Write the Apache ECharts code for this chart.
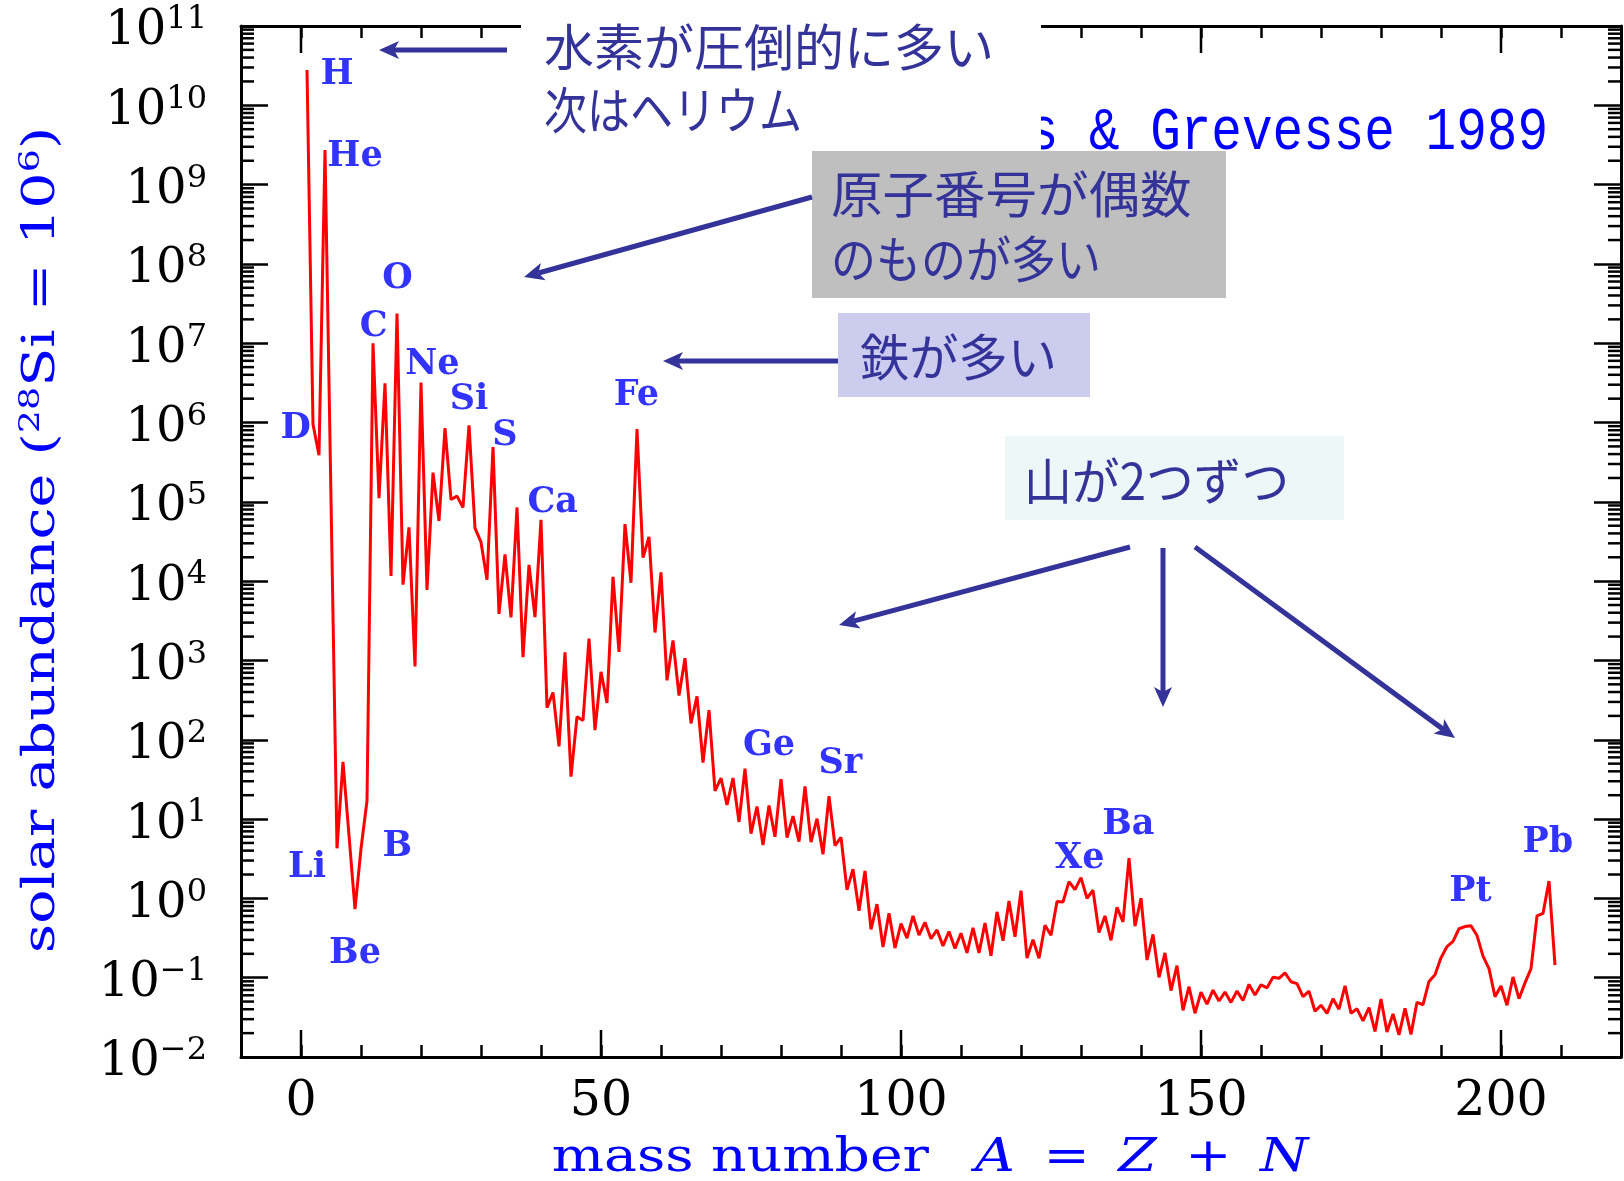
<!DOCTYPE html>
<html>
<head>
<meta charset="utf-8">
<script src="https://cdn.jsdelivr.net/npm/echarts@6/dist/echarts.min.js"></script>
<style>html,body{margin:0;padding:0;background:#fff}#chart{width:1624px;height:1181px}</style>
</head>
<body>
<div id="chart"></div>
<script>
// ---------- DATA ----------
const massNumbers = [
  1,2,3,4,6,7,9,10,11,12,
  13,14,15,16,17,18,19,20,21,22,
  23,24,25,26,27,28,29,30,31,32,
  33,34,35,36,37,38,39,40,41,42,
  43,44,45,46,47,48,49,50,51,52,
  53,54,55,56,57,58,59,60,61,62,
  63,64,65,66,67,68,69,70,71,72,
  73,74,75,76,77,78,79,80,81,82,
  83,84,85,86,87,88,89,90,91,92,
  93,94,95,96,97,98,99,100,101,102,
  103,104,105,106,107,108,109,110,111,112,
  113,114,115,116,117,118,119,120,121,122,
  123,124,125,126,127,128,129,130,131,132,
  133,134,135,136,137,138,139,140,141,142,
  143,144,145,146,147,148,149,150,151,152,
  153,154,155,156,157,158,159,160,161,162,
  163,164,165,166,167,168,169,170,171,172,
  173,174,175,176,177,178,179,180,181,182,
  183,184,185,186,187,188,189,190,191,192,
  193,194,195,196,197,198,199,200,201,202,
  203,204,205,206,207,208,209
];
const abundances = [
  2.79e10,9.5e5,3.86e5,2.72e9,4.28,52.8,0.73,4.22,17.0,9.99e6,
  1.11e5,3.12e6,1.16e4,2.37e7,9.04e3,4.77e4,843,3.20e6,7.77e3,2.34e5,
  5.74e4,8.48e5,1.07e5,1.18e5,8.49e4,9.22e5,4.67e4,3.10e4,1.04e4,4.89e5,
  3.86e3,2.17e4,3.5e3,8.50e4,1.1e3,1.60e4,3.52e3,5.92e4,254,395,
  82.5,1.27e3,34.2,195,175,1.89e3,132,718,292,1.13e4,
  1.28e3,5.25e4,9.55e3,8.25e5,1.98e4,3.61e4,2.25e3,1.29e4,562,1.79e3,
  361,1.07e3,161,352,51.7,237,22.7,32.8,15.1,33.0,
  9.2,43.3,6.56,14.4,4.7,14.8,5.98,31.9,5.82,10.9,
  5.2,25.8,5.12,10.1,3.6,19.4,4.64,5.87,1.28,2.33,
  0.698,2.22,0.406,0.847,0.244,0.65,0.236,0.48,0.316,0.60,
  0.344,0.50,0.310,0.40,0.252,0.382,0.234,0.364,0.206,0.425,
  0.205,0.488,0.189,0.676,0.293,0.925,0.328,1.25,0.177,0.302,
  0.176,0.459,0.343,0.916,0.90,1.63,1.29,1.83,1.0,1.27,
  0.372,0.60,0.296,0.774,0.504,3.22,0.446,1.005,0.167,0.351,
  0.101,0.205,0.0687,0.142,0.0387,0.0769,0.0356,0.0658,0.0465,0.0696,
  0.0508,0.0658,0.0488,0.0678,0.0516,0.0824,0.0603,0.0813,0.0745,0.101,
  0.0982,0.115,0.0889,0.0843,0.0576,0.0675,0.0378,0.045,0.0355,0.0543,
  0.040,0.079,0.0357,0.0405,0.0286,0.042,0.021,0.054,0.0207,0.035,
  0.019,0.041,0.0193,0.049,0.0456,0.0898,0.109,0.178,0.247,0.287,
  0.414,0.441,0.453,0.34,0.187,0.13,0.0575,0.0785,0.045,0.102,
  0.0543,0.086,0.130,0.60,0.645,1.65,0.144
];
const decadeTicks = [1e-2,1e-1,1e0,1e1,1e2,1e3,1e4,1e5,1e6,1e7,1e8,1e9,1e10,1e11];
const minorMultipliers = [2,3,4,5,6,7,8,9];
const xLabelValues = [0,50,100,150,200];
const xMajorTicks = [0,50,100,150,200];
// element labels: [text, mass number position, abundance position]
const elementLabels = [
  ['H',6.0,2.73e10],['He',9.0,2.53e9],['D',-0.9,9.3e5],['C',12.1,1.83e7],['O',16.1,7.3e7],
  ['Ne',21.9,6.0e6],['Si',28.0,2.16e6],['S',34.0,7.55e5],['Ca',41.95,1.1e5],['Fe',55.9,2.44e6],
  ['Li',1.0,2.7],['Be',9.0,0.222],['B',16.05,5.07],['Ge',78.0,93.8],['Sr',89.9,56.2],
  ['Xe',129.8,3.54],['Ba',137.9,9.55],['Pt',194.9,1.35],['Pb',207.8,5.55]
];
const xTitle = ['mass number  \u2009', 'A', ' \u2009=\u2009 ', 'Z', ' \u2009+\u2009 ', 'N'];
const yTitle = 'solar abundance ({sup|28}Si = 10{sup|6})';
const sourceText = 'Anders & Grevesse 1989';
const notes = {
  h1: '水素が圧倒的に多い', h2: '次はヘリウム',
  e1: '原子番号が偶数', e2: 'のものが多い',
  fe: '鉄が多い', two: '山が2つずつ'
};

// ---------- BUILD ----------
const X_MIN = -10, X_MAX = 220, Y_MIN = 1e-2, Y_MAX = 1e11;
const seriesData = massNumbers.map((a, i) => [a, abundances[i]]);
const minorTickData = [];
decadeTicks.slice(0, -1).forEach(d => minorMultipliers.forEach(m => minorTickData.push([X_MIN, m * d])));
const xMajorData = xMajorTicks.map(x => [x, Y_MIN]);

const ANNO = '#333399';
const BLUE = '#0000ff';
const SERIF = "'DejaVu Serif', serif";
const JP = "'Noto Sans CJK JP', 'Noto Sans CJK SC', sans-serif";

function arrow(x1, y1, x2, y2) {
  const dx = x2 - x1, dy = y2 - y1, len = Math.hypot(dx, dy);
  const ux = dx / len, uy = dy / len;
  const hl = 20, hw = 9, notch = 5;
  const bx = x2 - ux * hl, by = y2 - uy * hl;
  return [
    {type: 'line', z: 102, shape: {x1: x1, y1: y1, x2: bx + ux * notch, y2: by + uy * notch},
     style: {stroke: ANNO, lineWidth: 5}},
    {type: 'polygon', z: 103, shape: {points: [
      [x2, y2], [bx - uy * hw, by + ux * hw], [bx + ux * notch, by + uy * notch], [bx + uy * hw, by - ux * hw]
    ]}, style: {fill: ANNO}}
  ];
}
function jpText(t, x, y, sx) {
  return {type: 'text', z: 104, x: x, y: y, scaleX: sx,
    style: {text: t, fontSize: 50, fontFamily: JP, fill: ANNO, align: 'left', verticalAlign: 'middle'}};
}
function box(x, y, w, h, color) {
  return {type: 'rect', z: 100, shape: {x: x, y: y, width: w, height: h}, style: {fill: color}};
}

const yLabelFormatter = v => {
  const e = Math.round(Math.log10(v));
  const s = e < 0 ? '\u2212' + (-e) : String(e);
  return '{b|10}{s|' + s + '}';
};
const yRich = {
  b: {fontSize: 48, fontFamily: SERIF, color: '#000', lineHeight: 52, verticalAlign: 'bottom'},
  s: {fontSize: 32, fontFamily: SERIF, color: '#000', lineHeight: 36, verticalAlign: 'top'}
};

function yAxisDef(pos, showLabel) {
  return {
    type: 'log', logBase: 10, min: Y_MIN, max: Y_MAX, position: pos,
    axisLine: {show: true, onZero: false, lineStyle: {color: '#000', width: 3}},
    axisTick: {show: true, inside: true, length: 27, customValues: decadeTicks, lineStyle: {color: '#000', width: 2.5}},
    minorTick: {show: false},
    splitLine: {show: false},
    axisLabel: {show: showLabel, customValues: decadeTicks, margin: 34, padding: [8, 0, 0, 0],
      formatter: yLabelFormatter, rich: yRich}
  };
}
function xAxisDef(pos, showLabel) {
  return {
    type: 'value', min: X_MIN, max: X_MAX, interval: 10, position: pos,
    axisLine: {show: true, onZero: false, lineStyle: {color: '#000', width: 3}},
    axisTick: {show: true, inside: true, length: 12, lineStyle: {color: '#000', width: 2.5}},
    splitLine: {show: false},
    axisLabel: {show: showLabel, margin: 21, fontSize: 49, fontFamily: SERIF, color: '#000',
      formatter: v => (xLabelValues.indexOf(v) >= 0 ? String(v) : '')}
  };
}

const graphics = [
  {type: 'text', z: 50, x: 1548, y: 133, scaleY: 1.2,
   style: {text: sourceText, fontSize: 51, fontFamily: "'Liberation Mono', monospace", fill: BLUE, align: 'right', verticalAlign: 'middle'}},
  {type: 'text', z: 10, x: 43, y: 540, rotation: Math.PI / 2, scaleX: 1.3,
   style: {text: yTitle, fontSize: 44, fontFamily: SERIF, fill: BLUE, align: 'center', verticalAlign: 'middle', lineHeight: 50,
     rich: {sup: {fontSize: 28, fontFamily: SERIF, fill: BLUE, verticalAlign: 'top', lineHeight: 30}}}},
  {type: 'text', z: 10, x: 930, y: 1159, scaleX: 1.2,
   style: {text: xTitle.map((t, i) => (i % 2 === 1 ? '{i|' + t + '}' : t)).join(''),
     fontSize: 46, fontFamily: SERIF, fill: BLUE, align: 'center', verticalAlign: 'middle',
     rich: {i: {fontSize: 46, fontFamily: SERIF, fontStyle: 'italic', fill: BLUE}}}},
  box(521, 0, 520, 150, '#ffffff'),
  box(812, 151, 414, 147, '#bfbfbf'),
  box(838, 313, 252, 84, '#ccccee'),
  box(1005, 436, 339, 84, '#eef7f8'),
  jpText(notes.h1, 544, 47, 1), jpText(notes.h2, 544, 110, 0.86),
  jpText(notes.e1, 831, 194, 1.03), jpText(notes.e2, 831, 259, 0.9),
  jpText(notes.fe, 860, 357, 0.985), jpText(notes.two, 1024, 481, 0.955)
].concat(
  arrow(507, 50, 379, 50),
  arrow(812, 197, 524, 277),
  arrow(838, 361, 663, 361),
  arrow(1130, 547, 839, 625),
  arrow(1163, 548, 1163, 707),
  arrow(1195, 547, 1455, 738)
);

const option = {
  animation: false,
  backgroundColor: '#ffffff',
  textStyle: {fontFamily: SERIF},
  grid: {left: 241, right: 3, top: 26, bottom: 124, containLabel: false, outerBoundsMode: 'none'},
  xAxis: [xAxisDef('bottom', true), xAxisDef('top', false)],
  yAxis: [yAxisDef('left', true), yAxisDef('right', false)],
  series: [
    {
      type: 'custom', xAxisIndex: 0, yAxisIndex: 0, z: 3, silent: true,
      data: minorTickData, encode: {x: 0, y: 1},
      renderItem: (params, api) => {
        const v = api.value(1);
        const pl = api.coord([X_MIN, v]);
        const pr = api.coord([X_MAX, v]);
        return {type: 'group', children: [
          {type: 'line', shape: {x1: pl[0], y1: pl[1], x2: pl[0] + 13, y2: pl[1]}, style: {stroke: '#000', lineWidth: 2.5}},
          {type: 'line', shape: {x1: pr[0] - 13, y1: pr[1], x2: pr[0], y2: pr[1]}, style: {stroke: '#000', lineWidth: 2.5}}
        ]};
      }
    },
    {
      type: 'custom', xAxisIndex: 0, yAxisIndex: 0, z: 3, silent: true,
      data: xMajorData, encode: {x: 0, y: 1},
      renderItem: (params, api) => {
        const x = api.value(0);
        const pb = api.coord([x, Y_MIN]);
        const pt = api.coord([x, Y_MAX]);
        return {type: 'group', children: [
          {type: 'line', shape: {x1: pb[0], y1: pb[1], x2: pb[0], y2: pb[1] - 27}, style: {stroke: '#000', lineWidth: 2.5}},
          {type: 'line', shape: {x1: pt[0], y1: pt[1], x2: pt[0], y2: pt[1] + 27}, style: {stroke: '#000', lineWidth: 2.5}}
        ]};
      }
    },
    {
      type: 'line', xAxisIndex: 0, yAxisIndex: 0, z: 4, silent: true,
      data: seriesData, showSymbol: false, symbol: 'none', smooth: false,
      lineStyle: {color: '#ff0000', width: 3}
    },
    {
      type: 'scatter', xAxisIndex: 0, yAxisIndex: 0, z: 5, silent: true,
      data: elementLabels.map(d => ({name: d[0], value: [d[1], d[2]]})),
      symbolSize: 1, itemStyle: {color: 'rgba(0,0,0,0)'},
      label: {show: true, position: 'inside', offset: [0, 4], formatter: '{b}', color: BLUE,
        fontFamily: SERIF, fontWeight: 'bold', fontSize: 35}
    }
  ],
  graphic: {elements: graphics}
};

const chart = echarts.init(document.getElementById('chart'), null, {renderer: 'canvas'});
chart.setOption(option);
</script>
</body>
</html>
